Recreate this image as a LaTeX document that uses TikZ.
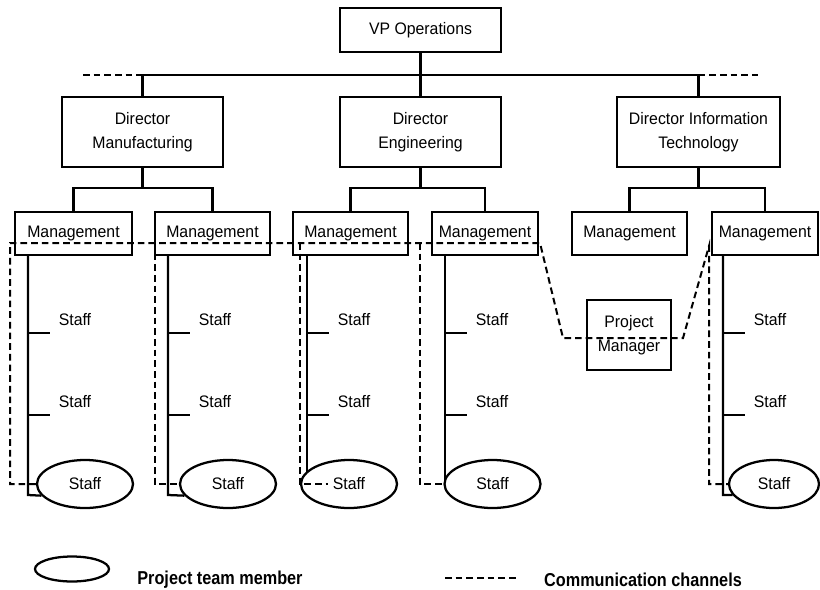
\documentclass[tikz,border=0pt]{standalone}
\usepackage{fontspec}
\setmainfont{Liberation Sans}[FakeStretch=0.95]
\newfontface\legendfont{Liberation Sans Bold}[FakeStretch=0.87]
\usetikzlibrary{shapes.geometric}

\begin{document}
\begin{tikzpicture}[x=0.75pt,y=-0.75pt,
  line width=1.7pt,
  boxsize/.style 2 args={minimum width=#1*0.75pt, minimum height=#2*0.75pt},
  box/.style={draw, rectangle, inner sep=0pt, align=center,
    font=\fontsize{12.5}{18}\selectfont},
  member/.style={draw, ellipse, inner sep=0pt, minimum width=96*0.75pt,
    minimum height=48*0.75pt, font=\fontsize{12.5}{15}\selectfont},
  stafflabel/.style={inner sep=0pt, font=\fontsize{12.5}{15}\selectfont},
  keylabel/.style={inner sep=0pt, font=\legendfont\fontsize{14}{16}\selectfont},
  channel/.style={line width=1.5pt, dash pattern=on 5pt off 3pt},
]
\useasboundingbox (0,0) rectangle (820,589);

% top of the hierarchy
\node[box, boxsize={161}{44}] (vp) at (420.5,30) {VP Operations};
\node[box, boxsize={161}{70}] (dm) at (142.5,132) {Director\\Manufacturing};
\node[box, boxsize={161}{70}] (de) at (420.5,132) {Director\\Engineering};
\node[box, boxsize={163}{70}] (dit) at (698.5,132) {Director Information\\Technology};

% management level
\node[box, boxsize={117}{43}] (m1) at (73.5,233.5) {Management};
\node[box, boxsize={115}{43}] (m2) at (212.5,233.5) {Management};
\node[box, boxsize={115}{43}] (m3) at (350.5,233.5) {Management};
\node[box, boxsize={106}{43}] (m4) at (485,233.5) {Management};
\node[box, boxsize={115}{43}] (m5) at (629.5,233.5) {Management};
\node[box, boxsize={106}{43}] (m6) at (765,233.5) {Management};

% project manager
\node[box, boxsize={84}{70}] (pm) at (629,335) {Project\\Manager};

% project team members
\node[member] (e1) at (85,484) {Staff};
\node[member] (e2) at (228,484) {Staff};
\node[member] (e3) at (349,484) {Staff};
\node[member] (e4) at (492.5,484) {Staff};
\node[member, minimum width=90*0.75pt] (e6) at (774,484) {Staff};

% VP to directors
\coordinate (busL) at (142.5,75);
\coordinate (busR) at (698.5,75);
\coordinate (stubL) at (83,75);
\coordinate (stubR) at (758,75);
\draw (vp) -- (de);
\draw (busL) -- (busR);
\draw (busL) -- (dm);
\draw (busR) -- (dit);
\draw[channel] (stubL) -- (busL);
\draw[channel] (busR) -- (stubR);

% directors to management
\coordinate (jm) at (142.5,188);
\coordinate (je) at (420.5,188);
\coordinate (ji) at (698.5,188);
\draw (dm) -- (jm);
\draw (m1) |- (jm) -| (m2);
\draw (de) -- (je);
\draw (m3) |- (je) -| (m4);
\draw (dit) -- (ji);
\draw (m5) |- (ji) -| (m6);

% staff lines under each manager
\draw (28,0 |- m1.south) -- (28,495) -- (e1.195);
\draw (168,0 |- m2.south) -- (168,495) -- (e2.195);
\draw (307,0 |- m3.south) -- (307,472);
\draw (445,0 |- m4.south) -- (445,481);
\draw (723,0 |- m6.south) -- (723,495) -- (e6.195);

\foreach \c/\x in {1/28, 2/168, 3/307, 4/445, 6/723} {
  \node[stafflabel] (sa\c) at (\x+47,320) {Staff};
  \node[stafflabel] (sb\c) at (\x+47,402) {Staff};
  \draw (\x,333) -- ++(22,0);
  \draw (\x,415) -- ++(22,0);
}

% communication channels
\coordinate (c0) at (10,243);
\coordinate (c1) at (540,243);
\coordinate (c2) at (563,338);
\coordinate (c3) at (683,338);
\coordinate (c4) at (709,246);
\coordinate (d2) at (155,243);
\coordinate (d3) at (300,243);
\coordinate (d4) at (420,243);
\coordinate (e3in) at (328,484);
\draw[channel] (e1.west) -- (e1.west -| c0) -- (c0) -- (c1) -- (c2) -- (c3)
  -- (c4) -- (c4 |- e6.west) -- (e6.west);
\draw[channel] (d2) -- (d2 |- e2.west) -- (e2.west);
\draw[channel] (d3) -- (d3 |- e3.west) -- (e3in);
\draw[channel] (d4) -- (d4 |- e4.west) -- (e4.west);

% legend
\node[draw, ellipse, inner sep=0pt, minimum width=74*0.75pt,
  minimum height=25*0.75pt] (key) at (72,569) {};
\node[keylabel] (keytext) at (220,580) {Project team member};
\coordinate (dashA) at (445,578);
\coordinate (dashB) at (517,578);
\draw[channel] (dashA) -- (dashB);
\node[keylabel] (chantext) at (643,580) {Communication channels};
\end{tikzpicture}
\end{document}
